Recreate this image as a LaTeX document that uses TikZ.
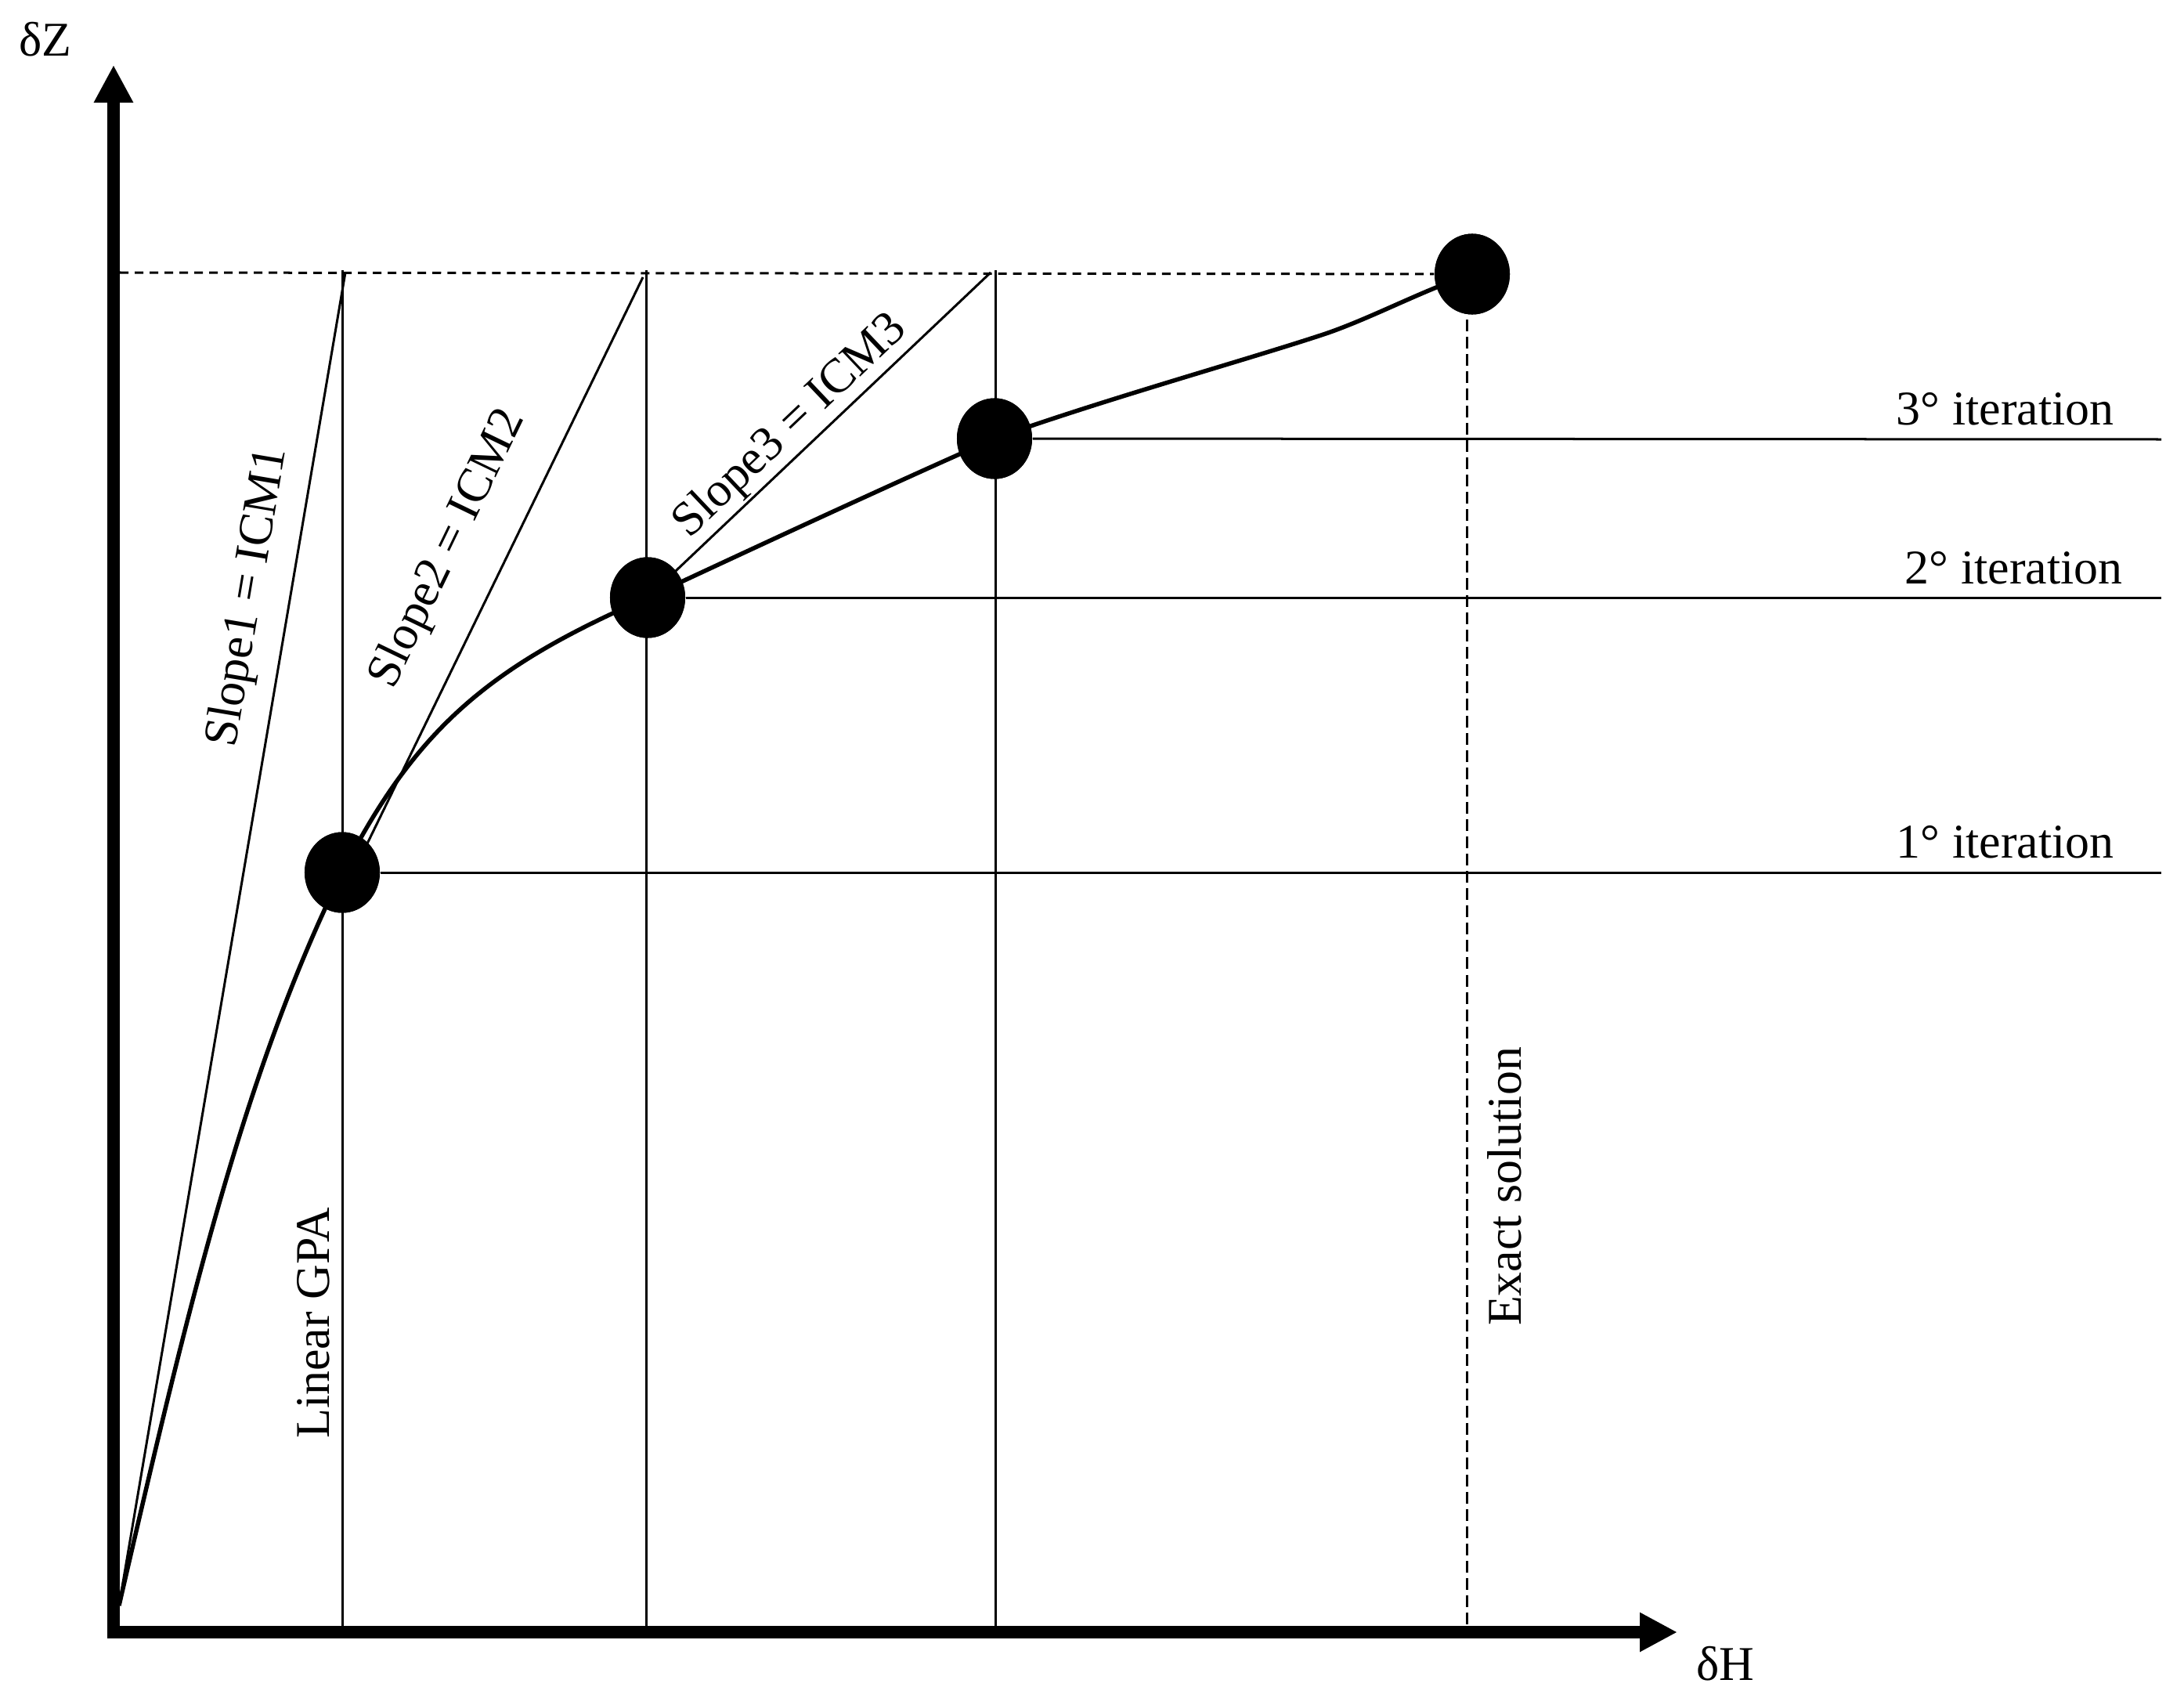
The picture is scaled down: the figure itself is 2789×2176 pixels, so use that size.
\documentclass[tikz,border=0pt]{standalone}
\usepackage{fontspec}
\setmainfont{Liberation Serif}
\usetikzlibrary{arrows.meta,shapes.geometric}
\begin{document}
\begin{tikzpicture}[x=0.01cm,y=-0.01cm,
  guide/.style={line width=0.03cm},
  curveline/.style={line width=0.055cm, line join=round},
  axisline/.style={line width=0.16cm, -{Triangle[length=0.48cm,width=0.47cm]}},
  dashH/.style={line width=0.03cm, dash pattern=on 0.11cm off 0.08cm},
  dashV/.style={line width=0.03cm, dash pattern=on 0.15cm off 0.07cm},
  dot/.style={ellipse, fill=black, draw=none, minimum width=0.96cm, minimum height=1.03cm, inner sep=0pt},
  lbl/.style={font=\fontsize{17.6}{21}\selectfont, inner sep=0pt}
]
\useasboundingbox (0,0) rectangle (2789,2176);

% named coordinates
\coordinate (O) at (152,2050);
\coordinate (YB) at (145,2092);
\coordinate (YT) at (145,83);
\coordinate (XL) at (137,2084);
\coordinate (XR) at (2142,2084);
\coordinate (T0) at (153,348);
\coordinate (T1) at (441,348);
\coordinate (S2a) at (452,1112);
\coordinate (T2) at (821,354);
\coordinate (T3) at (1265,348);
\coordinate (V1t) at (437,345);
\coordinate (V1b) at (437,2077);
\coordinate (V2t) at (825,345);
\coordinate (V2b) at (825,2077);
\coordinate (V3t) at (1271,345);
\coordinate (V3b) at (1271,2077);
\coordinate (V4t) at (1873,408);
\coordinate (V4b) at (1873,2077);
\coordinate (H1) at (2760,1114);
\coordinate (H2) at (2760,763);
\coordinate (H3) at (2760,561);
\coordinate (W) at (1690,427);

% dots (placed first so lines can refer to them)
\node[dot] (D1) at (437,1114) {};
\node[dot] (D2) at (827,763) {};
\node[dot] (D3) at (1270,560) {};
\node[dot] (D4) at (1880,350) {};

% guide lines
\draw[guide] (V1t) -- (V1b);
\draw[guide] (V2t) -- (V2b);
\draw[guide] (V3t) -- (V3b);
\draw[dashV] (V4t) -- (V4b);
\draw[dashH] (T0) -- (D4);
\draw[guide] (D1) -- (H1);
\draw[guide] (D2) -- (H2);
\draw[guide] (D3) -- (H3);

% slope lines
\draw[guide] (O) -- (T1);
\draw[guide] (S2a) -- (T2);
\draw[guide] (D2.center) -- (T3);

% curve
\draw[curveline] (O)
  .. controls (244,1650) and (315,1362) .. (D1.center)
  .. controls (532,928) and (627,850) .. (D2.center)
  .. controls (977,693) and (1130,622) .. (D3.center)
  .. controls (1410,510) and (1590,460) .. (W)
  .. controls (1750,407) and (1820,369) .. (D4.center);

% redraw dots on top
\node[dot] at (D1) {};
\node[dot] at (D2) {};
\node[dot] at (D3) {};
\node[dot] at (D4) {};

% axes
\draw[axisline] (YB) -- (YT);
\draw[axisline] (XL) -- (XR);

% labels
\node[lbl, anchor=base west] (lz) at (24,72) {δZ};
\node[lbl, anchor=base west] (lh) at (2166,2145) {δH};
\node[lbl, anchor=base east] (it3) at (2700,542) {3° iteration};
\node[lbl, anchor=base east] (it2) at (2711,745) {2° iteration};
\node[lbl, anchor=base east] (it1) at (2700,1095) {1° iteration};
\node[lbl, rotate=90, anchor=base] (lgpa) at (420,1689) {Linear GPA};
\node[lbl, rotate=90, anchor=base] (lex) at (1942,1515) {Exact solution};
\node[lbl, rotate=80.4] (ls1) at (318,763) {Slope1 = ICM1};
\node[lbl, rotate=64.2] (ls2) at (573,701) {Slope2 = ICM2};
\node[lbl, rotate=43.5] (ls3) at (1010,545) {Slope3 = ICM3};
\end{tikzpicture}
\end{document}
